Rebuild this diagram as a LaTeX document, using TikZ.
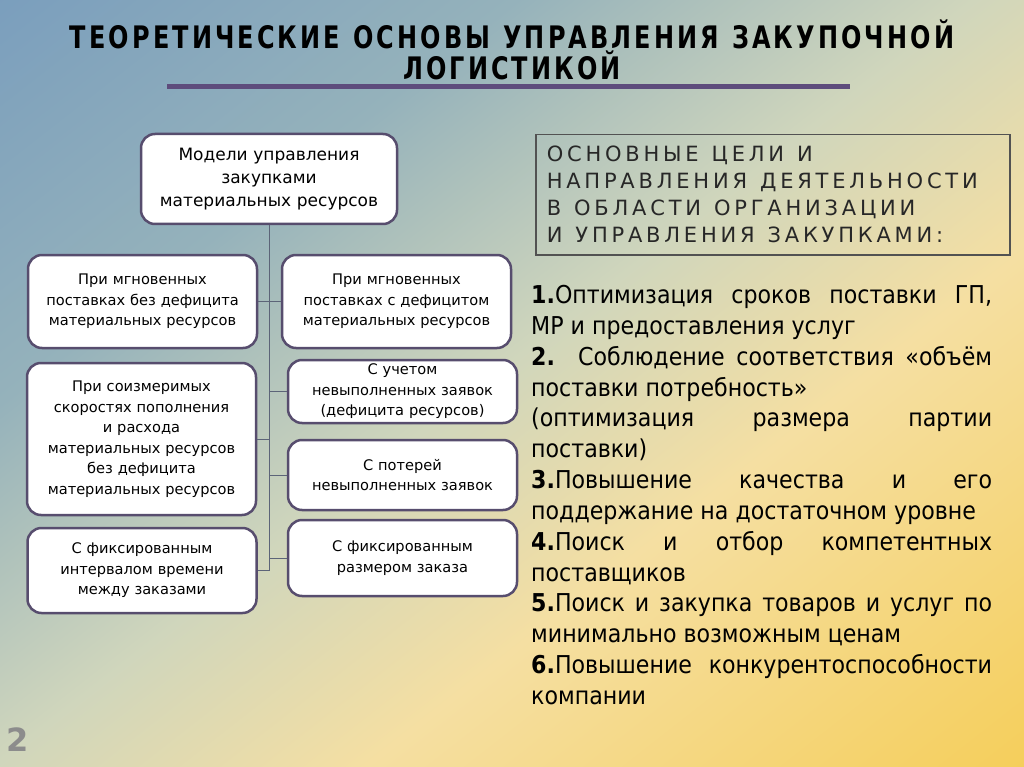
\documentclass[tikz,border=0pt]{standalone}
\usepackage{fontspec}
\setmainfont{DejaVu Sans}
\newfontfamily\condfont{DejaVu Sans Condensed}
\newfontfamily\titlefont[LetterSpace=10,FakeStretch=0.86]{DejaVu Sans Condensed Bold}
\newfontfamily\capsfont[LetterSpace=18]{DejaVu Sans}
\newcommand\wgap{\hspace{13pt}}
\usetikzlibrary{positioning,calc}
\definecolor{bgblue}{HTML}{7A9EBD}
\definecolor{bgsky}{HTML}{95B2BB}
\definecolor{bgmid}{HTML}{D0D6BC}
\definecolor{bgcream}{HTML}{F5DFA2}
\definecolor{bgyellow}{HTML}{F5CE5A}
\definecolor{boxline}{HTML}{574D6E}
\definecolor{rulepurple}{HTML}{5E4C7C}
\definecolor{linkgray}{HTML}{5C6478}
\definecolor{capsgray}{HTML}{272727}
\pgfdeclarehorizontalshading{slidebg}{100bp}{color(0bp)=(bgblue); color(14.6bp)=(bgblue);
  color(33bp)=(bgsky); color(49bp)=(bgmid); color(62bp)=(bgcream);
  color(85.4bp)=(bgyellow); color(100bp)=(bgyellow)}

\begin{document}
\begin{tikzpicture}[x=1pt,y=-1pt,
  model/.style={draw=boxline, line width=2.5pt, fill=white, rounded corners=14pt,
    align=center, inner sep=2pt, minimum width=229pt, text width=221pt,
    font=\fontsize{14.6}{20.5}\selectfont},
  link/.style={draw=linkgray, line width=1pt}]
\shade[shading=slidebg, shading angle=-52] (0,0) rectangle (1024,767);
\useasboundingbox (0,0) rectangle (1024,767);

% title
\node[font=\titlefont\fontsize{31}{31}\selectfont, align=center] (title) at (512,50)
  {ТЕОРЕТИЧЕСКИЕ\wgap ОСНОВЫ\wgap УПРАВЛЕНИЯ\wgap ЗАКУПОЧНОЙ\\ЛОГИСТИКОЙ};
\draw[rulepurple, line width=5pt] (167,87) -- (850,87);

% models tree
\node[model, minimum width=256pt, text width=248pt, minimum height=90pt,
  font=\fontsize{17}{23}\selectfont] (models) at (269,179)
  {Модели управления\\закупками\\материальных ресурсов};
\node[model, minimum height=93pt] (L1) at (142.5,301.5)
  {При мгновенных\\поставках без дефицита\\материальных ресурсов};
\node[model, minimum height=93pt] (R1) at (396.5,301.5)
  {При мгновенных\\поставках с дефицитом\\материальных ресурсов};
\node[model, minimum height=152pt] (L2) at (141.5,439)
  {При соизмеримых\\скоростях пополнения\\и расхода\\материальных ресурсов\\без дефицита\\материальных ресурсов};
\node[model, minimum height=63pt] (R2) at (402.5,391.5)
  {С учетом\\невыполненных заявок\\(дефицита ресурсов)};
\node[model, minimum height=70pt] (R3) at (402.5,475)
  {С потерей\\невыполненных заявок};
\node[model, minimum height=76pt] (R4) at (402.5,558)
  {С фиксированным\\размером заказа};
\node[model, minimum height=85pt] (L3) at (142,570.5)
  {С фиксированным\\интервалом времени\\между заказами};

\draw[link] (models.south) -- (models.south |- L3.east);
\draw[link] (L1.east) -- (R1.west);
\draw[link] (L2.east) -- (L2.east -| models.south);
\draw[link] (L3.east) -- (L3.east -| models.south);
\draw[link] (R2.west) -- (R2.west -| models.south);
\draw[link] (R3.west) -- (R3.west -| models.south);
\draw[link] (R4.west) -- (R4.west -| models.south);

% goals
\node[draw=capsgray!80, line width=1.5pt, anchor=north west, minimum height=120pt,
  text width=452pt, inner xsep=11pt, align=left, text=capsgray,
  font=\capsfont\fontsize{21}{27}\selectfont] (goals) at (535,134)
  {ОСНОВНЫЕ\wgap ЦЕЛИ\wgap И\\НАПРАВЛЕНИЯ\wgap ДЕЯТЕЛЬНОСТИ\\В\wgap ОБЛАСТИ\wgap ОРГАНИЗАЦИИ\\И\wgap УПРАВЛЕНИЯ\wgap ЗАКУПКАМИ:};
\node[anchor=north west, text width=461pt, align=justify, inner sep=0pt,
  font=\condfont\fontsize{24.6}{30.85}\selectfont] (aims) at (531,285)
  {\textbf{1.}Оптимизация сроков поставки ГП,\linebreak МР и предоставления услуг\\
   \textbf{2.} Соблюдение соответствия «объём\linebreak поставки потребность»\\
   (оптимизация размера партии\linebreak поставки)\\
   \textbf{3.}Повышение качества и его\linebreak поддержание на достаточном уровне\\
   \textbf{4.}Поиск и отбор компетентных\linebreak поставщиков\\
   \textbf{5.}Поиск и закупка товаров и услуг по\linebreak минимально возможным ценам\\
   \textbf{6.}Повышение конкурентоспособности\linebreak компании};

\node[font=\bfseries\fontsize{32}{32}\selectfont, text=black!45] (pagenum) at (18,740) {2};
\end{tikzpicture}
\end{document}
